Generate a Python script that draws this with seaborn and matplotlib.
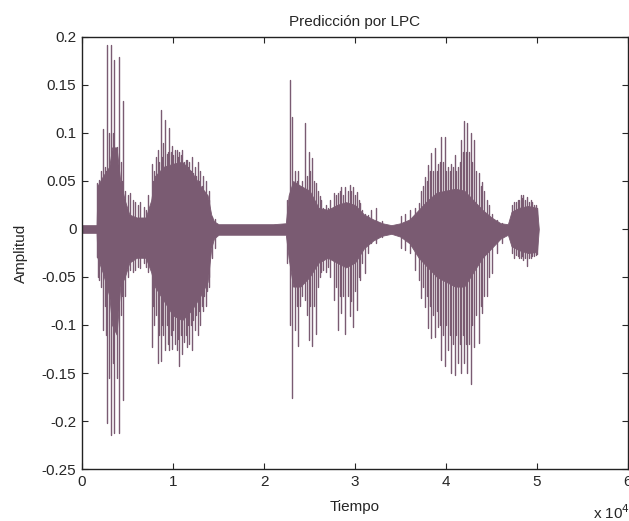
import numpy as np
import pandas as pd
import matplotlib
matplotlib.use('Agg')
import matplotlib.pyplot as plt
import seaborn as sns
from matplotlib.ticker import FormatStrFormatter

# Envelope of the dense part of the signal (time in units of 10^4 samples)
core_t = [0.00, 0.16, 0.17, 0.23, 0.30, 0.33, 0.38, 0.42, 0.47, 0.52, 0.60, 0.70,
          0.76, 0.80, 0.90, 1.00, 1.10, 1.20, 1.30, 1.38, 1.42, 1.45, 1.50, 1.80,
          2.10, 2.24, 2.27, 2.32, 2.40, 2.50, 2.60, 2.70, 2.80, 2.90, 3.00, 3.10,
          3.20, 3.30, 3.40, 3.50, 3.60, 3.70, 3.80, 3.90, 4.00, 4.10, 4.20, 4.30,
          4.40, 4.50, 4.60, 4.68, 4.72, 4.80, 4.90, 5.00, 5.02]
core_top = [0.004, 0.004, 0.045, 0.055, 0.065, 0.085, 0.085, 0.050, 0.030, 0.015, 0.012, 0.012,
            0.030, 0.055, 0.065, 0.068, 0.070, 0.060, 0.045, 0.035, 0.015, 0.008, 0.005, 0.005,
            0.005, 0.006, 0.035, 0.050, 0.045, 0.040, 0.022, 0.020, 0.025, 0.028, 0.025, 0.015,
            0.010, 0.006, 0.004, 0.006, 0.010, 0.020, 0.030, 0.038, 0.040, 0.042, 0.040, 0.030,
            0.020, 0.012, 0.006, 0.005, 0.018, 0.022, 0.024, 0.022, 0.000]
core_bot = [-0.004, -0.004, -0.030, -0.046, -0.070, -0.100, -0.110, -0.060, -0.050, -0.035, -0.030, -0.030,
            -0.045, -0.060, -0.075, -0.090, -0.095, -0.085, -0.070, -0.055, -0.020, -0.010, -0.006, -0.006,
            -0.006, -0.006, -0.030, -0.060, -0.060, -0.050, -0.035, -0.030, -0.035, -0.040, -0.035, -0.020,
            -0.012, -0.007, -0.005, -0.008, -0.015, -0.030, -0.040, -0.050, -0.055, -0.060, -0.060, -0.045,
            -0.030, -0.020, -0.010, -0.006, -0.018, -0.022, -0.025, -0.024, 0.000]

# Tall peaks sticking out of the envelope
spike_t = [0.165, 0.190, 0.230, 0.275, 0.295, 0.315, 0.335, 0.355, 0.380, 0.405, 0.430, 0.455,
           0.530, 0.560, 0.586, 0.620, 0.640, 0.678, 0.700, 0.730,
           0.770, 0.790, 0.835, 0.868, 0.890, 0.916, 0.940, 0.960, 0.990, 1.020, 1.044, 1.070,
           1.100, 1.125, 1.154, 1.180, 1.210, 1.240, 1.270, 1.300, 1.330, 1.360, 1.390, 1.430, 1.460,
           2.250, 2.286, 2.310, 2.340, 2.370, 2.400, 2.450, 2.490, 2.530, 2.570, 2.610, 2.650,
           2.700, 2.770, 2.810, 2.850, 2.890, 2.940, 2.980, 3.020, 3.060, 3.110, 3.180, 3.230, 3.300,
           3.510, 3.550, 3.600, 3.660, 3.700, 3.730, 3.770, 3.800, 3.840, 3.880, 3.910, 3.950,
           3.990, 4.020, 4.060, 4.100, 4.130, 4.170, 4.200, 4.230, 4.270, 4.310, 4.360, 4.400,
           4.450, 4.500, 4.560, 4.610,
           4.750, 4.790, 4.820, 4.850, 4.890, 4.930, 4.970, 5.000]
spike_top = [0.048, 0.051, 0.104, 0.192, 0.100, 0.192, 0.100, 0.176, 0.085, 0.179, 0.070, 0.133,
             0.037, 0.030, 0.028, 0.025, 0.028, 0.023, 0.020, 0.035,
             0.068, 0.060, 0.082, 0.124, 0.090, 0.114, 0.080, 0.105, 0.086, 0.082, 0.082, 0.080,
             0.082, 0.070, 0.072, 0.070, 0.075, 0.065, 0.070, 0.060, 0.055, 0.050, 0.040, 0.013, 0.010,
             0.030, 0.155, 0.117, 0.060, 0.060, 0.044, 0.110, 0.080, 0.074, 0.048, 0.034, 0.022,
             0.022, 0.037, 0.037, 0.044, 0.044, 0.046, 0.044, 0.039, 0.027, 0.016, 0.020, 0.022, 0.008,
             0.014, 0.016, 0.020, 0.022, 0.027, 0.040, 0.054, 0.067, 0.079, 0.084, 0.068, 0.096,
             0.096, 0.065, 0.068, 0.077, 0.065, 0.093, 0.112, 0.110, 0.100, 0.093, 0.058, 0.049,
             0.030, 0.016, 0.009, 0.006,
             0.028, 0.030, 0.035, 0.035, 0.033, 0.030, 0.025, 0.022]
spike_bot = [-0.029, -0.053, -0.105, -0.202, -0.155, -0.215, -0.140, -0.213, -0.155, -0.213, -0.090, -0.178,
             -0.043, -0.045, -0.043, -0.040, -0.041, -0.035, -0.040, -0.045,
             -0.123, -0.100, -0.140, -0.137, -0.110, -0.126, -0.120, -0.126, -0.125, -0.120, -0.126, -0.143,
             -0.130, -0.118, -0.123, -0.120, -0.126, -0.105, -0.110, -0.100, -0.085, -0.080, -0.060, -0.030, -0.020,
             -0.035, -0.100, -0.176, -0.105, -0.122, -0.080, -0.074, -0.116, -0.122, -0.109, -0.050, -0.043,
             -0.040, -0.074, -0.105, -0.088, -0.109, -0.091, -0.102, -0.084, -0.053, -0.046, -0.015, -0.015, -0.008,
             -0.020, -0.022, -0.025, -0.043, -0.053, -0.072, -0.081, -0.103, -0.114, -0.112, -0.102, -0.136,
             -0.143, -0.126, -0.150, -0.152, -0.140, -0.150, -0.140, -0.150, -0.161, -0.123, -0.119, -0.088,
             -0.070, -0.046, -0.025, -0.015,
             -0.030, -0.028, -0.030, -0.032, -0.039, -0.030, -0.028, -0.026]

# Shorter peaks that make the rough edge of the envelope
minor_t = [0.18, 0.21, 0.25, 0.26, 0.44, 0.47, 0.50,
           0.78, 0.81, 0.85, 0.88, 0.93, 0.975, 1.005, 1.055, 1.085, 1.14, 1.165, 1.195,
           1.225, 1.255, 1.285, 1.315, 1.345, 1.375, 1.40,
           2.36, 2.42, 2.47, 2.51, 2.55, 2.59, 2.63, 2.68, 2.73, 2.79, 2.83, 2.87, 2.92,
           2.96, 3.00, 3.04, 3.08, 3.14,
           3.75, 3.79, 3.82, 3.86, 3.90, 3.93, 3.97, 4.00, 4.04, 4.08, 4.115, 4.15, 4.185,
           4.215, 4.25, 4.29, 4.33, 4.38, 4.42, 4.47,
           4.73, 4.77, 4.80, 4.835, 4.87, 4.91, 4.95, 4.985]
minor_top = [0.045, 0.060, 0.065, 0.060, 0.050, 0.040, 0.035,
             0.050, 0.075, 0.070, 0.075, 0.078, 0.080, 0.077, 0.075, 0.077, 0.072, 0.065, 0.060,
             0.058, 0.055, 0.050, 0.045, 0.040, 0.035, 0.030,
             0.050, 0.050, 0.055, 0.060, 0.050, 0.040, 0.030, 0.025, 0.030, 0.035, 0.040, 0.035, 0.040,
             0.040, 0.035, 0.030, 0.020, 0.015,
             0.045, 0.050, 0.060, 0.060, 0.060, 0.070, 0.070, 0.060, 0.060, 0.065, 0.060, 0.070, 0.080,
             0.080, 0.080, 0.070, 0.060, 0.045, 0.040, 0.025,
             0.025, 0.028, 0.030, 0.032, 0.030, 0.028, 0.028, 0.025]
minor_bot = [-0.050, -0.060, -0.080, -0.110, -0.070, -0.070, -0.050,
             -0.080, -0.090, -0.110, -0.100, -0.100, -0.110, -0.105, -0.115, -0.110, -0.110, -0.100, -0.100,
             -0.095, -0.090, -0.085, -0.080, -0.070, -0.065, -0.050,
             -0.080, -0.070, -0.090, -0.080, -0.080, -0.060, -0.045, -0.045, -0.050, -0.060, -0.070, -0.070, -0.070,
             -0.075, -0.065, -0.050, -0.035, -0.025,
             -0.060, -0.070, -0.080, -0.090, -0.085, -0.100, -0.110, -0.100, -0.110, -0.120, -0.110, -0.120, -0.110,
             -0.120, -0.120, -0.100, -0.090, -0.080, -0.070, -0.050,
             -0.025, -0.027, -0.030, -0.028, -0.030, -0.030, -0.028, -0.027]

xticks = [0, 1, 2, 3, 4, 5, 6]
yticks = [-0.25, -0.2, -0.15, -0.1, -0.05, 0, 0.05, 0.1, 0.15, 0.2]

wave_color = '#7a5b72'

sns.set_style('ticks')
plt.rcParams['font.family'] = ['Liberation Sans', 'DejaVu Sans']

# long table: each peak is a vertical segment (top -> bottom)
all_t = spike_t + minor_t
all_top = spike_top + minor_top
all_bot = spike_bot + minor_bot
peaks = pd.DataFrame({
    't': np.repeat(all_t, 2),
    'amp': np.column_stack([all_top, all_bot]).ravel(),
    'peak': np.repeat(np.arange(len(all_t)), 2),
})

fig = plt.figure(figsize=(6.29, 5.21), dpi=100)
ax = fig.add_axes([0.1304, 0.0998, 0.868, 0.8292])

ax.fill_between(core_t, core_bot, core_top, color=wave_color, lw=0.6)
sns.lineplot(data=peaks, x='t', y='amp', units='peak', estimator=None, sort=False,
             color=wave_color, lw=1.0, ax=ax, legend=False)

ax.set_xlim(0, 6)
ax.set_ylim(-0.25, 0.2)
ax.set_xticks(xticks)
ax.set_yticks(yticks)
ax.yaxis.set_major_formatter(FormatStrFormatter('%g'))
ax.tick_params(direction='in', top=True, right=True, length=4, width=0.8,
               labelsize=11, pad=4)
for s in ax.spines.values():
    s.set_visible(True)
    s.set_linewidth(1.0)
    s.set_color('#222222')

ax.set_title('Predicción por LPC', fontsize=11, pad=8)
ax.set_xlabel('Tiempo', fontsize=11, labelpad=8)
ax.set_ylabel('Amplitud', fontsize=11, labelpad=10)
fig.text(0.942, 0.004, r'x 10$^4$', fontsize=11)

fig.savefig('out.png', dpi=100)
